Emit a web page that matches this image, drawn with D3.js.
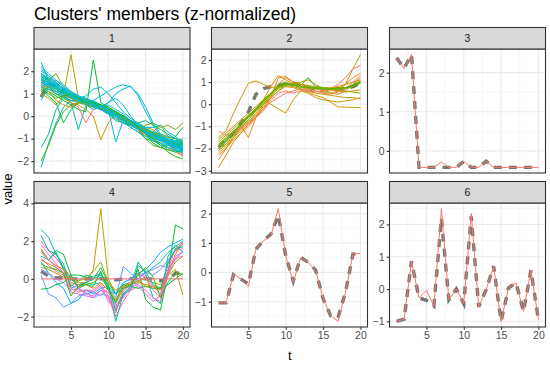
<!DOCTYPE html>
<html>
<head>
<meta charset="utf-8">
<script src="https://cdn.jsdelivr.net/npm/d3@7"></script>
<style>
  body { margin: 0; background: #fff; }
  svg { display: block; font-family: "Liberation Sans", Arial, sans-serif; }
</style>
</head>
<body>
<script>
const W = 550, H = 367;

// time index
const tIndex = [1,2,3,4,5,6,7,8,9,10,11,12,13,14,15,16,17,18,19,20];
const xTicks = [5, 10, 15, 20];
const xMinor = [2.5, 7.5, 12.5, 17.5];

// cluster 1
const members1 = [
  [1.7,1.5,1.3,1.05,0.9,0.75,0.6,0.5,0.35,0.2,0.05,-0.1,-0.3,-0.45,-0.65,-0.8,-0.95,-1.1,-1.2,-1.3],
  [2.4,1.6,1.2,1.0,0.8,0.7,0.55,0.45,0.3,0.15,0.0,-0.15,-0.35,-0.5,-0.7,-0.9,-1.0,-1.15,-1.3,-1.4],
  [-2.28,-1.2,-0.3,0.4,0.7,0.75,0.65,0.5,0.4,0.2,0.1,-0.1,-0.3,-0.5,-0.6,-0.8,-1.0,-1.2,-1.4,-1.55],
  [1.9,1.6,1.2,0.9,0.6,-0.6,0.5,0.7,0.5,0.3,0.1,-0.1,-0.3,-0.55,-0.7,-0.9,-1.0,-1.15,-1.25,-1.35],
  [1.6,1.4,1.3,1.1,0.9,0.8,0.7,0.6,0.5,0.3,-1.15,-0.2,-0.3,-0.5,-0.6,-0.8,-1.0,-1.1,-1.2,-1.3],
  [1.5,1.3,1.1,0.9,0.8,0.7,0.6,0.7,0.9,1.1,1.3,1.4,1.3,1.0,0.4,-0.3,-0.8,-1.1,-1.5,-1.8],
  [1.2,1.2,1.0,0.9,0.7,0.6,0.55,0.5,0.4,0.3,0.1,0.0,-0.2,-0.4,-0.7,-1.0,-1.2,-1.4,-1.55,-1.6],
  [1.3,1.1,0.9,0.7,0.5,0.3,0.2,2.5,0.6,0.4,0.2,0.0,-0.2,-0.5,-0.8,-1.2,-1.4,-1.3,-0.9,-0.5],
  [-2.0,-1.3,-0.4,0.2,0.5,0.6,0.6,0.5,0.4,0.3,0.2,0.0,-0.3,-0.6,-1.0,-1.3,-1.4,-1.5,-1.3,-1.2],
  [1.0,0.8,0.5,0.9,2.74,0.8,0.5,0.4,0.3,0.2,0.0,-0.2,-0.4,-0.5,-0.7,-0.9,-1.0,-1.2,-1.3,-1.5],
  [1.4,1.2,1.0,0.8,0.6,0.5,0.3,0.0,-1.05,-0.3,0.1,0.0,-0.2,-0.4,-0.5,-0.6,-0.9,-1.2,-1.3,-1.4],
  [1.8,1.6,1.9,1.3,0.9,0.6,0.5,0.4,0.3,0.2,0.0,-0.2,-0.4,-0.6,-0.4,-0.3,-0.5,-0.4,-0.6,-0.3],
  [1.3,1.4,1.2,1.0,0.6,0.4,-0.3,0.3,0.4,0.2,0.0,-0.2,-0.4,-0.6,-0.8,-1.0,-1.1,-1.3,-1.5,-1.7],
  [1.5,1.7,1.5,1.2,1.0,0.8,0.6,0.5,0.3,0.1,-0.1,-0.2,-0.4,-0.6,-0.8,-1.0,-1.3,-1.4,-1.6,-1.75],
  [1.2,0.9,0.6,-0.3,0.3,0.6,0.7,0.5,0.3,0.1,0.0,-0.2,-0.5,-0.7,-1.0,-1.1,-1.2,-1.5,-1.6,-1.5],
  [0.9,1.1,0.7,0.5,0.4,0.6,0.8,0.6,0.4,0.3,0.2,0.0,-0.3,-0.6,-0.9,-0.7,-0.4,-0.9,-1.2,-1.1],
  [2.0,1.8,1.5,1.2,1.0,0.8,0.9,1.2,1.3,1.0,0.6,0.2,-0.1,-0.3,-0.5,-0.5,-0.4,-0.7,-0.9,-1.2],
  [0.7,1.3,1.6,1.4,1.1,0.9,0.7,0.5,0.3,0.1,-0.1,-0.3,-0.4,-0.6,-0.7,-0.9,-1.0,-1.1,-1.1,-1.0],
  [-1.4,-0.8,0.3,0.8,0.9,0.8,0.7,0.6,0.5,0.3,0.1,-0.1,-0.3,-0.4,-0.6,-0.9,-1.1,-1.2,-1.3,-1.4],
  [1.9,1.7,1.4,1.2,1.0,0.8,0.6,0.4,0.4,0.6,0.8,0.5,0.0,-0.4,-0.6,-0.8,-1.0,-1.2,-1.3,-1.35],
  [1.8,1.6,1.35,1.1,0.95,0.8,0.65,0.5,0.35,0.15,0.0,-0.2,-0.35,-0.55,-0.7,-0.85,-1.0,-1.15,-1.25,-1.35],
  [1.5,1.4,1.25,1.1,0.9,0.75,0.7,0.6,0.45,0.3,0.1,-0.05,-0.25,-0.4,-0.6,-0.75,-0.9,-1.05,-1.15,-1.25],
  [2.1,1.8,1.5,1.2,1.0,0.85,0.7,0.55,0.4,0.25,0.05,-0.1,-0.3,-0.5,-0.75,-0.95,-1.1,-1.25,-1.4,-1.5],
  [1.6,1.5,1.4,1.2,1.0,0.85,0.7,0.55,0.45,0.3,0.2,0.0,-0.2,-0.35,-0.55,-0.75,-0.85,-1.0,-1.1,-1.2],
  [1.4,1.3,1.1,1.0,0.85,0.7,0.6,0.5,0.4,0.2,0.05,-0.15,-0.3,-0.5,-0.65,-0.8,-0.95,-1.1,-1.3,-1.45],
  [1.7,1.45,1.2,1.0,0.85,0.65,0.55,0.45,0.4,0.6,1.0,1.2,1.35,0.9,0.2,-0.4,-0.9,-1.2,-1.4,-1.5],
  [1.9,1.6,1.3,1.1,0.95,0.85,0.75,0.6,0.4,0.1,-0.2,-0.3,-0.4,-0.3,-0.2,-0.4,-0.6,-0.8,-1.0,-1.25],
  [1.3,1.2,1.1,1.05,0.95,0.8,0.65,0.5,0.35,0.2,0.05,-0.1,-0.25,-0.4,-0.55,-0.75,-0.95,-1.15,-1.35,-1.5],
  [2.2,1.9,1.6,1.3,1.1,0.9,0.7,0.5,0.3,0.1,-0.1,-0.3,-0.5,-0.7,-0.9,-1.05,-1.2,-1.3,-1.4,-1.5],
  [1.6,1.3,1.0,0.8,0.7,0.7,0.65,0.6,0.5,0.35,0.15,-0.05,-0.2,-0.4,-0.6,-0.8,-1.0,-1.1,-1.2,-1.25],
  [1.75,1.55,1.4,1.25,1.05,0.9,0.8,0.65,0.5,0.3,0.1,-0.1,-0.3,-0.5,-0.7,-0.9,-1.05,-1.25,-1.45,-1.65],
  [1.1,1.3,1.2,1.0,0.8,0.65,0.55,0.45,0.35,0.25,0.1,-0.1,-0.25,-0.45,-0.6,-0.75,-0.85,-0.95,-1.0,-1.1],
  [1.5,1.35,1.2,1.0,0.9,0.7,0.5,0.3,0.4,0.5,0.3,0.1,-0.2,-0.5,-0.8,-1.1,-1.3,-1.4,-1.5,-1.6],
  [1.9,1.65,1.45,1.2,0.95,0.75,0.6,0.45,0.3,0.15,0.0,-0.15,-0.35,-0.55,-0.75,-0.9,-1.05,-1.2,-1.35,-1.45],
  [1.2,1.0,0.8,0.9,1.0,0.8,0.6,0.6,0.5,0.4,0.2,0.0,-0.2,-0.5,-0.8,-1.0,-1.3,-1.6,-1.8,-1.9],
  [1.65,1.5,1.3,1.15,1.0,0.85,0.7,0.55,0.4,0.25,0.1,-0.05,-0.2,-0.4,-0.55,-0.7,-0.8,-0.9,-1.0,-1.1]
];
const colors1 = ["#00BFC4","#00B9E3","#00BCD6","#00C0B0","#00B4EF","#00BCD8","#00C1A3","#00BA38","#39B600",
                 "#ABA300","#D39200","#7CAE00","#F8766D","#E58700","#00BC59","#C09B00","#00BFC4","#00B6EB",
                 "#00C08B","#00BDD0","#00C1AA","#00BECA","#00BBDA","#00B7E8","#00C0B5","#00B9E0","#00BE6C",
                 "#00BFC0","#00BAE0","#00C1A0","#00BCD3","#8FAA00","#00BCDD","#00B8E5","#24B700","#00C0BA"];
const centroid1 = [0.85,1.45,1.3,1.1,0.95,0.8,0.7,0.55,0.4,0.25,0.1,-0.05,-0.25,-0.45,-0.65,-0.8,-0.95,-1.1,-1.2,-1.3];
const yTicks1 = [-2, -1, 0, 1, 2];

// cluster 2
const members2 = [
  [-1.9,-1.6,-1.3,-0.95,-0.6,-0.25,0.1,0.45,0.75,0.9,0.85,0.8,0.75,0.72,0.7,0.7,0.68,0.72,0.8,0.95],
  [-2.0,-1.7,-1.3,-0.9,-0.5,-0.2,0.2,0.5,0.8,0.95,0.9,0.85,1.2,0.8,0.75,0.7,0.7,0.75,0.85,1.0],
  [-1.5,-1.2,-0.4,0.3,0.95,1.05,0.9,0.75,0.8,0.85,0.8,0.7,0.6,0.5,0.45,0.4,0.35,0.3,0.3,0.25],
  [-2.2,-1.9,-1.5,-1.1,-0.7,-0.3,0.2,0.8,1.3,1.1,0.9,0.8,0.75,0.7,0.7,0.65,0.6,0.55,0.6,0.65],
  [-1.7,-1.4,-1.1,-0.8,-0.5,-0.2,0.2,0.5,0.75,0.9,0.85,0.8,0.7,0.6,0.55,0.5,0.6,0.9,1.6,2.24],
  [-1.2,-1.4,-1.3,-1.0,-0.8,-0.5,-0.2,0.1,0.3,0.5,0.6,0.7,0.6,0.55,0.6,0.7,0.9,1.2,1.6,1.75],
  [-2.85,-2.3,-1.7,-1.3,-0.9,-0.5,-0.1,0.3,0.6,0.8,0.75,0.65,0.55,0.4,0.3,0.1,-0.12,-0.13,-0.14,-0.15],
  [-2.5,-2.0,-1.5,-1.0,-1.5,-0.6,0.0,0.4,0.9,1.2,1.0,0.9,0.8,0.7,0.6,0.6,0.7,0.9,1.2,1.4],
  [-2.0,-1.8,-1.5,-1.2,-0.8,-0.4,0.0,0.4,0.7,0.85,0.95,1.0,1.1,0.9,0.7,0.5,0.45,0.6,0.9,1.2],
  [-1.8,-1.5,-1.2,-0.9,-0.6,-0.3,0.0,0.3,0.6,0.9,0.95,0.9,0.85,0.8,0.75,0.7,0.65,0.6,0.55,0.5],
  [-1.6,-1.3,-1.0,-0.7,-0.4,-0.1,0.2,0.0,-0.2,-0.4,0.2,0.6,0.5,0.3,0.2,0.15,0.1,0.15,0.2,0.3],
  [-2.3,-2.0,-1.6,-1.3,-1.0,-0.6,-0.2,0.3,1.2,1.25,1.0,0.9,0.8,0.75,0.7,0.75,0.8,0.9,1.0,1.1],
  [-2.1,-1.8,-1.4,-1.0,-0.7,-0.3,0.1,0.5,0.9,1.0,0.85,0.75,0.7,0.7,0.7,0.7,0.75,0.75,0.9,1.05],
  [-1.9,-1.7,-1.2,-1.1,-0.9,-0.6,-0.3,0.2,0.5,0.6,0.5,0.6,0.7,0.6,0.5,0.45,0.55,0.7,1.0,1.3],
  [-1.85,-1.55,-1.25,-0.9,-0.55,-0.2,0.15,0.5,0.8,0.92,0.88,0.82,0.78,0.74,0.72,0.7,0.7,0.74,0.82,0.98],
  [-1.95,-1.65,-1.3,-0.92,-0.58,-0.22,0.12,0.48,0.78,0.9,0.86,0.8,0.76,0.72,0.7,0.68,0.7,0.72,0.82,0.96]
];
const colors2 = ["#53B400","#00BA38","#C49A00","#E58700","#A3A500","#F8766D","#D89000",
                 "#EA8331","#B79F00","#8FAA00","#CD9600","#E18A00","#7CAE00","#FF7F5E","#5BB300","#64B200"];
const centroid2 = [-1.95,-1.6,-1.3,-0.85,-0.35,0.45,0.7,0.8,0.85,0.9,0.95,0.85,0.75,0.55,0.65,0.7,0.7,0.7,0.8,0.95];
const yTicks2 = [-3, -2, -1, 0, 1, 2];

// cluster 3
const members3 = [
  [2.38,2.11,2.46,-0.42,-0.42,-0.42,-0.28,-0.42,-0.42,-0.27,-0.42,-0.42,-0.26,-0.42,-0.42,-0.42,-0.42,-0.42,-0.42,-0.42]
];
const colors3 = ["#F8766D"];
const centroid3 = [2.38,2.11,2.46,-0.42,-0.42,-0.42,-0.42,-0.42,-0.42,-0.27,-0.42,-0.42,-0.26,-0.42,-0.42,-0.42,-0.42,-0.42,-0.42,-0.42];
const yTicks3 = [0, 1, 2];

// cluster 4
const members4 = [
  [2.62,2.2,1.3,0.8,-0.5,-0.3,-0.2,-0.3,-0.2,-0.6,-0.8,-0.3,-0.2,0.2,0.3,0.6,0.9,1.4,1.7,2.0],
  [1.0,0.8,0.6,0.3,0.0,-0.2,-0.2,0.5,3.72,0.0,-0.8,-0.5,-0.3,-0.2,-0.3,-0.4,-0.5,0.2,0.5,-0.85],
  [1.5,1.0,1.5,1.3,0.2,-0.5,-0.3,-0.4,0.4,-0.6,-1.2,-0.3,-0.4,0.5,-1.1,-1.5,-1.65,0.3,2.85,2.65],
  [0.2,-0.8,-1.0,-1.5,-1.3,-0.9,-0.8,-0.7,-0.9,-0.5,-1.0,0.65,0.3,0.0,0.4,0.2,0.5,1.0,1.5,1.8],
  [2.0,1.5,1.1,0.6,0.1,-0.5,-0.8,-0.9,-0.6,-1.0,-2.0,-1.2,-0.6,-0.4,-0.8,-1.2,-0.9,0.5,1.6,1.9],
  [1.8,1.3,0.8,0.3,-0.3,-0.6,-0.6,-0.7,-0.4,-1.2,-1.6,-0.9,-0.5,-0.2,0.2,-0.4,-0.8,0.9,1.5,1.6],
  [1.2,1.0,1.4,0.5,-0.4,-0.1,0.2,0.1,0.3,-0.4,-2.25,-0.8,-0.4,0.9,0.3,-1.0,-1.3,1.2,1.8,1.4],
  [-0.55,-0.5,-0.3,-0.2,0.2,0.2,0.1,0.0,0.6,-0.2,-0.8,-0.5,-0.4,-0.5,-0.4,-0.5,-0.5,-0.3,0.0,0.3],
  [0.9,0.3,-0.2,-0.5,-1.3,-1.1,-0.6,-0.8,-0.5,-0.4,-0.8,-0.2,0.0,0.3,0.5,0.9,1.4,1.7,1.9,2.1],
  [1.6,1.0,0.7,0.5,-0.2,-0.3,-0.3,-0.5,-0.2,-0.6,-1.1,-0.4,-0.2,-0.1,-0.4,-0.4,-0.6,0.3,1.3,2.0],
  [0.6,0.5,0.3,0.1,0.0,-0.1,0.0,0.4,0.9,-0.2,-0.6,-0.4,-0.3,-0.1,0.0,-0.2,-0.3,0.2,0.9,1.2],
  [0.5,0.3,0.0,-0.2,-0.6,-0.5,-0.7,-1.0,-0.8,-0.9,-1.5,-0.7,-0.3,0.0,0.3,0.5,0.7,0.6,1.0,1.5],
  [1.4,1.0,0.6,0.3,-0.7,-0.8,-0.9,-1.0,-0.6,-0.7,-1.4,-1.0,-0.4,-0.3,-0.6,-1.0,-1.2,0.2,1.2,1.4],
  [2.3,1.5,1.3,0.6,0.0,-0.4,-0.2,0.0,0.2,-0.3,-1.7,-0.8,-0.6,0.7,0.4,-0.3,-0.5,0.8,1.6,1.7],
  [1.1,0.7,0.4,0.2,-0.5,-0.7,-0.6,-0.6,-0.3,-0.9,-1.8,-0.6,-0.2,0.3,0.1,-0.6,-1.0,0.4,1.1,1.2],
  [0.8,0.6,0.5,0.3,-0.9,-0.4,-0.3,-0.2,0.1,-0.5,-1.3,-0.5,-0.3,0.2,0.6,0.1,-1.0,-0.2,0.4,0.2],
  [0,0,0,0,0,0,0,0,0,0,0,0,0,0,0,0,0,0,0,0]
];
const colors4 = ["#00BFC4","#B79F00","#00BA38","#619CFF","#FF61C3","#F564E3","#00C08B","#00BA38",
                 "#00B0F6","#E58700","#A3A500","#9590FF","#E76BF3","#00BF7D","#FF67A4","#39B600","#FC717F"];
const centroid4 = [0.4,0.15,0.05,0.05,0.0,0.0,0.0,0.0,0.0,0.0,-0.05,0.0,0.0,0.05,0.0,0.0,-0.1,-0.05,0.3,0.3];
const yTicks4 = [-2, 0, 2, 4];

// cluster 5
const members5 = [
  [-1.04,-1.04,-0.06,-0.23,-0.48,0.79,1.07,1.24,2.17,0.56,-0.34,0.51,0.34,0.06,-0.9,-1.47,-1.67,-0.68,0.62,0.65]
];
const colors5 = ["#F8766D"];
const centroid5 = [-1.04,-1.04,-0.08,-0.23,-0.4,0.79,1.07,1.3,1.95,0.56,-0.3,0.51,0.34,0.08,-0.9,-1.47,-1.55,-0.68,0.62,0.65];
const yTicks5 = [-1, 0, 1, 2];

// cluster 6
const members6 = [
  [-1.0,-0.93,0.86,-0.27,-0.04,-0.53,2.49,-0.33,0.0,-0.45,2.34,-0.55,-0.02,0.71,-1.0,0.04,0.19,-0.69,0.58,-0.95]
];
const colors6 = ["#F8766D"];
const centroid6 = [-1.0,-0.93,0.86,-0.27,-0.35,-0.53,2.2,-0.33,0.0,-0.45,2.25,-0.55,-0.02,0.71,-1.0,0.04,0.19,-0.69,0.58,-0.95];
const yTicks6 = [-1, 0, 1, 2];

const clusterNames = ["1", "2", "3", "4", "5", "6"];
const panels = [
  {members: members1, colors: colors1, centroid: centroid1, ticks: yTicks1},
  {members: members2, colors: colors2, centroid: centroid2, ticks: yTicks2},
  {members: members3, colors: colors3, centroid: centroid3, ticks: yTicks3},
  {members: members4, colors: colors4, centroid: centroid4, ticks: yTicks4},
  {members: members5, colors: colors5, centroid: centroid5, ticks: yTicks5},
  {members: members6, colors: colors6, centroid: centroid6, ticks: yTicks6}
];

// layout
const colX = [34, 211.5, 389.5], pw = 156;
const rowY = [27.5, 181.5], stripH = 21.5, ph = 124;

const svg = d3.select("body").append("svg")
  .attr("width", W).attr("height", H);

svg.append("text")
  .attr("x", 34).attr("y", 19.5)
  .attr("font-size", 17.5).attr("fill", "#000")
  .text("Clusters' members (z-normalized)");

const x = d3.scaleLinear().domain([1 - 0.95, 20 + 0.95]).range([0, pw]);

const line = (y) => d3.line().x((d, i) => x(tIndex[i])).y(d => y(d));

panels.forEach((p, k) => {
  const col = k % 3, row = Math.floor(k / 3);
  const g = svg.append("g").attr("transform", `translate(${colX[col]},${rowY[row] + stripH})`);

  const all = p.members.flat().concat(p.centroid);
  const [lo, hi] = d3.extent(all);
  const pad = (hi - lo) * 0.05;
  const y = d3.scaleLinear().domain([lo - pad, hi + pad]).range([ph, 0]);

  g.append("rect").attr("width", pw).attr("height", ph).attr("fill", "#fff");

  // minor grid
  const step = p.ticks[1] - p.ticks[0];
  const yMinor = [p.ticks[0] - step / 2].concat(p.ticks.map(v => v + step / 2))
    .filter(v => v > y.domain()[0] && v < y.domain()[1]);
  g.selectAll(".ymin").data(yMinor).enter().append("line")
    .attr("x1", 0).attr("x2", pw).attr("y1", d => y(d)).attr("y2", d => y(d))
    .attr("stroke", "#F2F2F2").attr("stroke-width", 0.6);
  g.selectAll(".xmin").data(xMinor).enter().append("line")
    .attr("y1", 0).attr("y2", ph).attr("x1", d => x(d)).attr("x2", d => x(d))
    .attr("stroke", "#F2F2F2").attr("stroke-width", 0.6);
  // major grid
  g.selectAll(".ymaj").data(p.ticks).enter().append("line")
    .attr("x1", 0).attr("x2", pw).attr("y1", d => y(d)).attr("y2", d => y(d))
    .attr("stroke", "#EBEBEB").attr("stroke-width", 1.1);
  g.selectAll(".xmaj").data(xTicks).enter().append("line")
    .attr("y1", 0).attr("y2", ph).attr("x1", d => x(d)).attr("x2", d => x(d))
    .attr("stroke", "#EBEBEB").attr("stroke-width", 1.1);

  // centroid (underneath the members)
  g.append("path").datum(p.centroid)
    .attr("d", line(y))
    .attr("fill", "none")
    .attr("stroke", "#5E5E5E").attr("stroke-opacity", 0.85)
    .attr("stroke-width", 3.4)
    .attr("stroke-dasharray", "8,7");

  // members
  g.selectAll(".member").data(p.members).enter().append("path")
    .attr("d", line(y))
    .attr("fill", "none")
    .attr("stroke", (d, i) => p.colors[i])
    .attr("stroke-width", 1);

  g.append("rect").attr("width", pw).attr("height", ph)
    .attr("fill", "none").attr("stroke", "#333333").attr("stroke-width", 1.1);

  // strip
  const s = svg.append("g").attr("transform", `translate(${colX[col]},${rowY[row]})`);
  s.append("rect").attr("width", pw).attr("height", stripH)
    .attr("fill", "#D9D9D9").attr("stroke", "#333333").attr("stroke-width", 1.1);
  s.append("text").attr("x", pw / 2).attr("y", stripH / 2 + 3.8)
    .attr("text-anchor", "middle").attr("font-size", 10.5).attr("fill", "#1A1A1A")
    .text(clusterNames[k]);

  // y axis
  const ya = g.append("g").call(d3.axisLeft(y).tickValues(p.ticks).tickSize(2.75).tickPadding(2.2).tickFormat(d3.format("d")));
  ya.select(".domain").remove();
  ya.selectAll("line").attr("stroke", "#333333").attr("stroke-width", 1.1);
  ya.selectAll("text").attr("font-size", 10.5).attr("fill", "#4D4D4D")
    .attr("font-family", "Liberation Sans, Arial, sans-serif");

  // x axis on bottom row
  if (row === 1) {
    const xa = g.append("g").attr("transform", `translate(0,${ph})`)
      .call(d3.axisBottom(x).tickValues(xTicks).tickSize(2.75).tickPadding(2.2));
    xa.select(".domain").remove();
    xa.selectAll("line").attr("stroke", "#333333").attr("stroke-width", 1.1);
    xa.selectAll("text").attr("font-size", 10.5).attr("fill", "#4D4D4D")
      .attr("font-family", "Liberation Sans, Arial, sans-serif");
  }
});

svg.append("text")
  .attr("x", (colX[0] + colX[2] + pw) / 2).attr("y", 360)
  .attr("text-anchor", "middle").attr("font-size", 13).attr("fill", "#000")
  .text("t");

svg.append("text")
  .attr("transform", "translate(12,189) rotate(-90)")
  .attr("text-anchor", "middle").attr("font-size", 13).attr("fill", "#000")
  .text("value");
</script>
</body>
</html>
